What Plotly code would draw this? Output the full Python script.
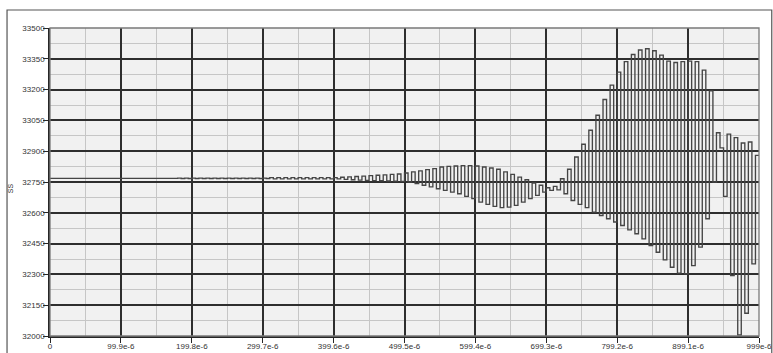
import plotly.graph_objects as go

# Held sample values of the "SS" signal, one per half step (200 steps over 0..999e-6 s)
SAMPLE_STEP = 4.995e-6
ss_values = (
    [32768] * 36
    + [32769, 32767] * 13
    + [32771, 32765] * 10
    + [32773, 32763, 32775, 32761, 32777, 32759, 32779, 32758, 32781, 32757,
       32783, 32756, 32785, 32755, 32787, 32754, 32789, 32753]
    + [32794, 32750, 32799, 32742, 32804, 32734, 32810, 32726, 32815, 32717,
       32823, 32709, 32826, 32701, 32828, 32693, 32830, 32680, 32830, 32669,
       32828, 32652, 32823, 32641, 32818, 32631, 32812, 32625, 32799, 32628,
       32787, 32636, 32774, 32652, 32761, 32669, 32745, 32685, 32734, 32701,
       32722, 32709, 32729, 32712]
    + [32766, 32693, 32812, 32660, 32872, 32641, 32934, 32625, 33002, 32603,
       33075, 32587, 33152, 32571, 33222, 32555, 33285, 32538, 33336, 32517,
       33371, 32498, 33393, 32473, 33399, 32441, 33389, 32408, 33368, 32371,
       33339, 32335, 33332, 32306, 33336, 32303, 33339, 32343, 33336, 32433,
       33295, 32571, 33194, 32750, 32990, 32916]
    + [32680, 32983, 32294, 32966, 32005, 32940, 32111, 32945, 32351, 32880]
)

x_tick_vals = [0, 99.9e-6, 199.8e-6, 299.7e-6, 399.6e-6, 499.5e-6,
               599.4e-6, 699.3e-6, 799.2e-6, 899.1e-6, 999e-6]
x_tick_text = ["0", "99.9e-6", "199.8e-6", "299.7e-6", "399.6e-6", "499.5e-6",
               "599.4e-6", "699.3e-6", "799.2e-6", "899.1e-6", "999e-6"]
y_tick_vals = [32000, 32150, 32300, 32450, 32600, 32750,
               32900, 33050, 33200, 33350, 33500]
y_tick_text = [str(v) for v in y_tick_vals]

# time of each held sample, plus the end of the last hold
t = [k * SAMPLE_STEP for k in range(len(ss_values))] + [len(ss_values) * SAMPLE_STEP]
y = ss_values + [ss_values[-1]]

minor_x = [(a + b) / 2 for a, b in zip(x_tick_vals[:-1], x_tick_vals[1:])]
minor_y = [(a + b) / 2 for a, b in zip(y_tick_vals[:-1], y_tick_vals[1:])]

FONT = "Liberation Sans, Arial, sans-serif"
MAJOR = "#2e2e2e"
MINOR = "#c6c6c6"

fig = go.Figure()
fig.add_trace(go.Scatter(
    x=t, y=y, mode="lines", line_shape="hv",
    line=dict(color="#454545", width=1.35),
    showlegend=False, hoverinfo="skip",
))

axis_common = dict(
    automargin=False,
    showgrid=True, gridcolor=MAJOR, gridwidth=1.5,
    zeroline=False, showline=True, linecolor="#262626", linewidth=1.6,
    ticks="outside", ticklen=5, tickcolor="#262626", tickwidth=1.3,
    tickfont=dict(family=FONT, size=8, color="#333333"),
)

fig.update_xaxes(
    range=[0, 999e-6], tickmode="array", tickvals=x_tick_vals, ticktext=x_tick_text,
    ticklabelstandoff=-3,
    minor=dict(tickmode="array", tickvals=minor_x, showgrid=True,
               gridcolor=MINOR, gridwidth=1, ticks=""),
    **axis_common,
)
fig.update_yaxes(
    range=[32000, 33500], tickmode="array", tickvals=y_tick_vals, ticktext=y_tick_text,
    ticklabelstandoff=-3,
    minor=dict(tickmode="array", tickvals=minor_y, showgrid=True,
               gridcolor=MINOR, gridwidth=1, ticks=""),
    **axis_common,
)

fig.update_layout(
    width=773, height=353,
    margin=dict(l=50, r=14, t=28, b=17),
    paper_bgcolor="white", plot_bgcolor="#f1f1f1",
    font=dict(family=FONT, size=8, color="#333333"),
    shapes=[
        # plot-area frame
        dict(type="rect", xref="paper", yref="paper", x0=0, x1=1, y0=0, y1=1,
             line=dict(color="#7a7a7a", width=1.3), layer="above"),
        # outer chart frame
        dict(type="rect", xref="paper", yref="paper",
             x0=-0.0606, x1=1.018, y0=-0.09, y1=1.0584,
             line=dict(color="#555555", width=1.2), layer="above"),
    ],
    annotations=[
        dict(text="SS", xref="paper", yref="paper", x=-0.0485, y=0.48,
             xanchor="right", textangle=-90, showarrow=False,
             font=dict(family=FONT, size=7, color="#333333")),
    ],
)

fig.write_html("out.html")
